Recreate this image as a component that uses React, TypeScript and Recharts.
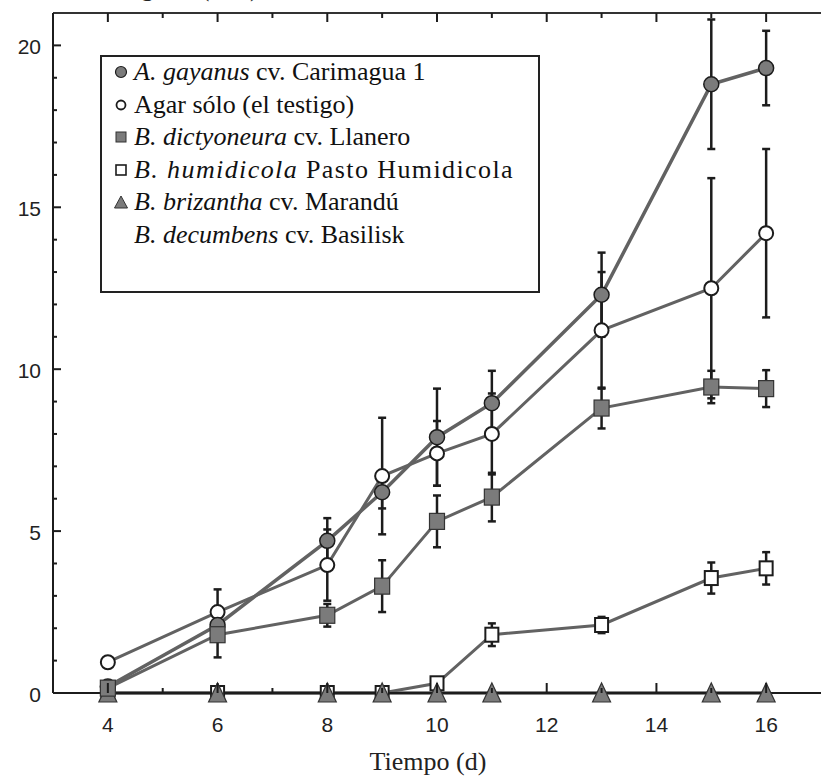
import React from 'react';
import { ComposedChart, Line, XAxis, YAxis, ErrorBar } from 'recharts';

// dias de medicion
const days = [4, 6, 8, 9, 10, 11, 13, 15, 16];

const gayanus = [0.2, 2.1, 4.7, 6.2, 7.9, 8.95, 12.3, 18.8, 19.3];
const gayanusErr = [0, 0.5, 0.7, 0.5, 1.5, 1.0, 1.3, 2.0, 1.15];
const agar = [0.95, 2.5, 3.95, 6.7, 7.4, 8.0, 11.2, 12.5, 14.2];
const agarErr = [0.15, 0.7, 1.1, 1.8, 1.0, 1.25, 1.8, 3.4, 2.6];
const dictyoneura = [0.15, 1.8, 2.4, 3.3, 5.3, 6.05, 8.8, 9.45, 9.4];
const dictyoneuraErr = [0, 0.7, 0.35, 0.8, 0.8, 0.75, 0.63, 0.5, 0.57];
const humidicola = [0, 0, 0, 0, 0.3, 1.8, 2.1, 3.55, 3.85];
const humidicolaErr = [0, 0, 0, 0, 0.1, 0.35, 0.25, 0.48, 0.5];
const brizantha = [0, 0, 0, 0, 0, 0, 0, 0, 0];
const decumbens = [0, 0, 0, 0, 0, 0, 0, 0, 0];

const xTicks = [4, 5, 6, 7, 8, 9, 10, 11, 12, 13, 14, 15, 16];
const xLabels = [4, 6, 8, 10, 12, 14, 16];
const yTicks = [0, 1, 2, 3, 4, 5, 6, 7, 8, 9, 10, 11, 12, 13, 14, 15, 16, 17, 18, 19, 20];
const yLabels = [0, 5, 10, 15, 20];

const data = days.map((d, i) => ({
  day: d,
  gayanus: gayanus[i],
  gayanusErr: gayanusErr[i],
  agar: agar[i],
  agarErr: agarErr[i],
  dictyoneura: dictyoneura[i],
  dictyoneuraErr: dictyoneuraErr[i],
  humidicola: humidicola[i],
  humidicolaErr: humidicolaErr[i],
  brizantha: brizantha[i],
  decumbens: decumbens[i],
}));

const GRAY = '#7b7b7b';
const INK = '#1c1c1c';
const LINE = '#626262';
const SANS = '"Liberation Sans", Arial, sans-serif';
const SERIF = '"Liberation Serif", "Times New Roman", serif';

const FilledCircle = (p: any) =>
  p.cx == null ? <g key={p.index} /> : <circle key={p.index} cx={p.cx} cy={p.cy} r={7.5} fill={GRAY} stroke={INK} strokeWidth={1.5} />;
const OpenCircle = (p: any) =>
  p.cx == null ? <g key={p.index} /> : <circle key={p.index} cx={p.cx} cy={p.cy} r={7} fill="#fff" stroke={INK} strokeWidth={2} />;
const FilledSquare = (p: any) =>
  p.cx == null ? <g key={p.index} /> : <rect key={p.index} x={p.cx - 7.5} y={p.cy - 8} width={15} height={16} fill={GRAY} stroke="#333" strokeWidth={1.2} />;
const OpenSquare = (p: any) =>
  p.cx == null ? <g key={p.index} /> : <rect key={p.index} x={p.cx - 6.5} y={p.cy - 7} width={13} height={14} fill="#fff" stroke={INK} strokeWidth={2} />;
const Triangle = (p: any) =>
  p.cx == null ? (
    <g key={p.index} />
  ) : (
    <polygon
      key={p.index}
      points={`${p.cx - 9},${p.cy + 9} ${p.cx + 9},${p.cy + 9} ${p.cx},${p.cy - 10}`}
      fill={GRAY}
      stroke="#333"
      strokeWidth={1.2}
    />
  );

const BottomTick = (p: any) => {
  const v = p.payload.value;
  const major = v % 2 === 0;
  return (
    <g>
      <line x1={p.x} y1={p.y} x2={p.x} y2={p.y - (major ? 10 : 5)} stroke={INK} strokeWidth={2} />
      {xLabels.includes(v) && (
        <text x={p.x} y={p.y + 31} textAnchor="middle" dominantBaseline="central" fontFamily={SANS} fontSize={21} fill="#222">
          {v}
        </text>
      )}
    </g>
  );
};

const TopTick = (p: any) => {
  const major = p.payload.value % 2 === 0;
  return <line x1={p.x} y1={p.y} x2={p.x} y2={p.y + (major ? 9 : 5)} stroke={INK} strokeWidth={2} />;
};

const LeftTick = (p: any) => {
  const v = p.payload.value;
  const major = yLabels.includes(v);
  return (
    <g>
      <line x1={p.x} y1={p.y} x2={p.x + (major ? 8 : 4)} y2={p.y} stroke={INK} strokeWidth={2} />
      {major && (
        <text x={p.x - 12} y={p.y + 1} textAnchor="end" dominantBaseline="central" fontFamily={SANS} fontSize={21} fill="#222">
          {v}
        </text>
      )}
    </g>
  );
};

const RightTick = (p: any) => {
  const major = yLabels.includes(p.payload.value);
  return <line x1={p.x} y1={p.y} x2={p.x - (major ? 8 : 4)} y2={p.y} stroke={INK} strokeWidth={2} />;
};

const legendRows = [
  { mark: 'fc', it: 'A. gayanus', rest: ' cv. Carimagua 1', ls: 0 },
  { mark: 'oc', it: '', rest: 'Agar sólo (el testigo)', ls: 0 },
  { mark: 'fs', it: 'B. dictyoneura', rest: ' cv. Llanero', ls: 0 },
  { mark: 'os', it: 'B. humidicola', rest: ' Pasto Humidicola', ls: 1.4 },
  { mark: 'tr', it: 'B. brizantha', rest: ' cv. Marandú', ls: 0 },
  { mark: '', it: 'B. decumbens', rest: ' cv. Basilisk', ls: 0 },
];

const LegendMark = ({ kind }: { kind: string }) => (
  <svg width={16} height={16} style={{ display: 'block' }}>
    {kind === 'fc' && <circle cx={8} cy={8} r={5.5} fill={GRAY} stroke={INK} strokeWidth={1.2} />}
    {kind === 'oc' && <circle cx={8} cy={8} r={4.5} fill="#fff" stroke={INK} strokeWidth={1.8} />}
    {kind === 'fs' && <rect x={3} y={3} width={10} height={10} fill={GRAY} stroke="#333" strokeWidth={1} />}
    {kind === 'os' && <rect x={3} y={3} width={10} height={10} fill="#fff" stroke={INK} strokeWidth={1.6} />}
    {kind === 'tr' && <polygon points="1.5,14 14.5,14 8,2" fill={GRAY} stroke="#333" strokeWidth={1} />}
  </svg>
);

export default function App() {
  return (
    <div style={{ position: 'absolute', left: 0, top: 0, width: 822, height: 784, background: '#fff', overflow: 'hidden' }}>
      <div style={{ position: 'absolute', left: 99, top: -26, fontFamily: SERIF, fontSize: 26, lineHeight: '27px', color: '#222', whiteSpace: 'nowrap' }}>
        Longitud (mm)
      </div>
      <ComposedChart width={822} height={784} data={data} margin={{ top: 12, right: 0, bottom: 90, left: 52 }}>
        <XAxis
          dataKey="day"
          type="number"
          domain={[3, 17]}
          ticks={xTicks}
          interval={0}
          height={1}
          tickSize={0}
          tickMargin={0}
          tickLine={false}
          axisLine={{ stroke: INK, strokeWidth: 2 }}
          tick={<BottomTick />}
        />
        <XAxis
          xAxisId="top"
          orientation="top"
          dataKey="day"
          type="number"
          domain={[3, 17]}
          ticks={xTicks}
          interval={0}
          height={1}
          tickSize={0}
          tickMargin={0}
          tickLine={false}
          axisLine={{ stroke: '#333', strokeWidth: 2 }}
          tick={<TopTick />}
        />
        <YAxis
          type="number"
          domain={[0, 21]}
          ticks={yTicks}
          interval={0}
          width={1}
          tickSize={0}
          tickMargin={0}
          tickLine={false}
          axisLine={{ stroke: INK, strokeWidth: 2 }}
          tick={<LeftTick />}
        />
        <YAxis
          yAxisId="right"
          orientation="right"
          type="number"
          domain={[0, 21]}
          ticks={yTicks}
          interval={0}
          width={1}
          tickSize={0}
          tickMargin={0}
          tickLine={false}
          axisLine={false}
          tick={<RightTick />}
        />
        <Line dataKey="decumbens" stroke={LINE} strokeWidth={3} dot={false} isAnimationActive={false} />
        <Line dataKey="humidicola" stroke={LINE} strokeWidth={3} dot={OpenSquare} isAnimationActive={false}>
          <ErrorBar dataKey="humidicolaErr" width={4} strokeWidth={2.5} stroke={INK} direction="y" />
        </Line>
        <Line dataKey="brizantha" stroke={LINE} strokeWidth={3} dot={Triangle} isAnimationActive={false} />
        <Line dataKey="agar" stroke={LINE} strokeWidth={3} dot={OpenCircle} isAnimationActive={false}>
          <ErrorBar dataKey="agarErr" width={4} strokeWidth={2.5} stroke={INK} direction="y" />
        </Line>
        <Line dataKey="gayanus" stroke={LINE} strokeWidth={3.5} dot={FilledCircle} isAnimationActive={false}>
          <ErrorBar dataKey="gayanusErr" width={4} strokeWidth={2.5} stroke={INK} direction="y" />
        </Line>
        <Line dataKey="dictyoneura" stroke={LINE} strokeWidth={3} dot={FilledSquare} isAnimationActive={false}>
          <ErrorBar dataKey="dictyoneuraErr" width={4} strokeWidth={2.5} stroke={INK} direction="y" />
        </Line>
      </ComposedChart>
      <div
        style={{
          position: 'absolute',
          left: 100,
          top: 55,
          width: 440,
          height: 238,
          boxSizing: 'border-box',
          border: '2px solid #222',
          background: '#fff',
          fontFamily: SERIF,
          fontSize: 26,
          color: '#111',
        }}
      >
        {legendRows.map((r, i) => (
          <div key={i} style={{ position: 'absolute', left: 11, top: 1 + i * 32.5, height: 28, display: 'flex', alignItems: 'center', whiteSpace: 'nowrap' }}>
            <div style={{ width: 16, marginRight: 5 }}>{r.mark && <LegendMark kind={r.mark} />}</div>
            <span style={{ letterSpacing: r.ls }}>
              {r.it && <i>{r.it}</i>}
              {r.rest}
            </span>
          </div>
        ))}
      </div>
      <div style={{ position: 'absolute', left: 0, width: 856, top: 747, textAlign: 'center', fontFamily: SERIF, fontSize: 26, color: '#222' }}>
        Tiempo (d)
      </div>
    </div>
  );
}
